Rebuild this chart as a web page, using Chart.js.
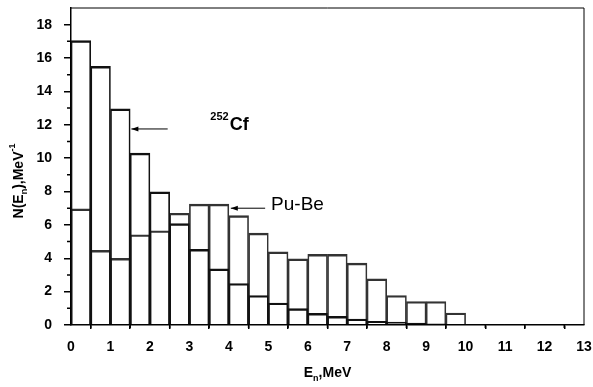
<!DOCTYPE html>
<html lang="en">
<head>
<meta charset="UTF-8">
<title>Neutron spectra: 252Cf and Pu-Be</title>
<style>
    html, body { margin: 0; padding: 0; background: #fff; }
    #wrap { width: 593px; height: 387px; }
</style>
</head>
<body>
<div id="wrap"><canvas id="spectrum"></canvas></div>

<script src="https://cdn.jsdelivr.net/npm/chart.js@4.4.1/dist/chart.umd.min.js"></script>
<script>
    // 0.5 MeV bins, centre of each bin
    const binCenters = [0.25, 0.75, 1.25, 1.75, 2.25, 2.75, 3.25, 3.75, 4.25, 4.75, 5.25,
                        5.75, 6.25, 6.75, 7.25, 7.75, 8.25, 8.75, 9.25, 9.75, 10.25, 10.75];
    const cf252 = [17.05, 15.5, 12.95, 10.3, 7.98, 6.08, 4.53, 3.37, 2.49, 1.77, 1.32,
                   0.98, 0.70, 0.52, 0.36, 0.22, 0.18, 0.12, 0.07, 0.04, 0.03, 0.01];
    const puBe = [6.96, 4.47, 3.99, 5.41, 5.65, 6.70, 7.25, 7.25, 6.56, 5.51, 4.39,
                  3.97, 4.23, 4.23, 3.71, 2.77, 1.77, 1.41, 1.41, 0.72, 0.04, 0];
    const xMin = 0, xMax = 13;
    const yMin = 0, yMax = 19;

    const FONT = '"Liberation Sans", Arial, sans-serif';

    function toPoints(vals) {
        return vals.map((v, i) => ({ x: binCenters[i], y: v }));
    }

    // minor ticks, frame, axis titles with sub/superscripts, arrows
    const decorations = {
        id: 'decorations',
        afterDraw(chart) {
            const ctx = chart.ctx;
            const xs = chart.scales.x, ys = chart.scales.y;
            const a = chart.chartArea;
            ctx.save();
            ctx.strokeStyle = '#000';
            ctx.lineWidth = 1.5;

            // minor ticks
            ctx.beginPath();
            for (let v = 1; v < yMax; v += 2) {
                const py = ys.getPixelForValue(v);
                ctx.moveTo(a.left, py);
                ctx.lineTo(a.left - 4, py);
            }
            for (let v = 0.5; v < xMax; v += 1) {
                const px = xs.getPixelForValue(v);
                ctx.moveTo(px, a.bottom);
                ctx.lineTo(px, a.bottom + 3);
            }
            ctx.stroke();

            // frame top & right
            ctx.lineWidth = 1;
            ctx.beginPath();
            ctx.moveTo(a.left, a.top);
            ctx.lineTo(a.right, a.top);
            ctx.lineTo(a.right, a.bottom);
            ctx.stroke();

            ctx.fillStyle = '#000';
            ctx.textBaseline = 'alphabetic';

            // x title: E_n,MeV
            const big = 'bold 14px ' + FONT, small = 'bold 9px ' + FONT;
            ctx.font = big;
            const wE = ctx.measureText('E').width;
            const wRest = ctx.measureText(',MeV').width;
            ctx.font = small;
            const wn = ctx.measureText('n').width;
            let tx = (a.left + a.right) / 2 - (wE + wn + wRest) / 2;
            const ty = 377;
            ctx.font = big; ctx.fillText('E', tx, ty); tx += wE;
            ctx.font = small; ctx.fillText('n', tx, ty + 4); tx += wn;
            ctx.font = big; ctx.fillText(',MeV', tx, ty);

            // y title: N(E_n),MeV^-1 rotated
            ctx.save();
            ctx.translate(23, 181);
            ctx.rotate(-Math.PI / 2);
            const parts = [['N(E', big, 0], ['n', small, 4], ['),MeV', big, 0], ['-1', small, -8]];
            let total = 0;
            parts.forEach(p => { ctx.font = p[1]; total += ctx.measureText(p[0]).width; });
            let ox = -total / 2;
            parts.forEach(p => {
                ctx.font = p[1];
                ctx.fillText(p[0], ox, p[2]);
                ox += ctx.measureText(p[0]).width;
            });
            ctx.restore();

            // arrows
            function arrow(x1, y1, x2, y2) {
                ctx.lineWidth = 1;
                ctx.beginPath();
                ctx.moveTo(x1, y1);
                ctx.lineTo(x2, y2);
                ctx.stroke();
                ctx.beginPath();
                ctx.moveTo(x2, y2);
                ctx.lineTo(x2 + 7, y2 - 2.5);
                ctx.lineTo(x2 + 7, y2 + 2.5);
                ctx.closePath();
                ctx.fill();
            }
            const cfY = ys.getPixelForValue(11.75);
            arrow(xs.getPixelForValue(2.45), cfY, xs.getPixelForValue(1.53), cfY);
            const pbY = ys.getPixelForValue(7.0);
            arrow(xs.getPixelForValue(4.92), pbY, xs.getPixelForValue(4.05), pbY);

            // labels
            ctx.font = 'bold 11px ' + FONT;
            const cx = xs.getPixelForValue(3.53), cy = ys.getPixelForValue(11.9);
            ctx.fillText('252', cx, cy - 6);
            const w252 = ctx.measureText('252').width;
            ctx.font = 'bold 18px ' + FONT;
            ctx.fillText('Cf', cx + w252 + 1, cy + 4);

            ctx.font = '19px ' + FONT;
            ctx.textBaseline = 'middle';
            ctx.fillText('Pu-Be', xs.getPixelForValue(5.07), ys.getPixelForValue(7.2));
            ctx.restore();
        }
    };

    const barStyle = {
        backgroundColor: 'rgba(0,0,0,0)',
        borderWidth: { top: 1.8, left: 1, right: 1, bottom: 0 },
        borderSkipped: 'start',
        barPercentage: 1,
        categoryPercentage: 1,
        grouped: false
    };

    new Chart(document.getElementById('spectrum'), {
        type: 'bar',
        data: {
            datasets: [
                Object.assign({ label: '252Cf', data: toPoints(cf252), borderColor: '#111' }, barStyle),
                Object.assign({ label: 'Pu-Be', data: toPoints(puBe), borderColor: '#333' }, barStyle)
            ]
        },
        options: {
            responsive: true,
            maintainAspectRatio: false,
            animation: false,
            layout: { padding: { top: 8, right: 9, left: 0, bottom: 0 } },
            plugins: { legend: { display: false }, tooltip: { enabled: false } },
            scales: {
                x: {
                    type: 'linear',
                    min: xMin, max: xMax,
                    offset: false,
                    afterFit(s) { s.height = 62; s.paddingLeft = 0; s.paddingRight = 0; },
                    grid: { drawOnChartArea: false, drawTicks: true, tickLength: 4, color: '#000', lineWidth: 1.5 },
                    border: { display: true, color: '#000', width: 1.5 },
                    ticks: { stepSize: 1, padding: 10, color: '#000', font: { family: FONT, size: 14, weight: 'bold' }, maxRotation: 0 }
                },
                y: {
                    min: yMin, max: yMax,
                    afterFit(s) { s.width = 71; s.paddingTop = 0; s.paddingBottom = 0; },
                    grid: { drawOnChartArea: false, drawTicks: true, tickLength: 7, color: '#000', lineWidth: 1.5 },
                    border: { display: true, color: '#000', width: 1.5 },
                    ticks: { stepSize: 2, includeBounds: false, padding: 12, color: '#000', font: { family: FONT, size: 14, weight: 'bold' } }
                }
            }
        },
        plugins: [decorations]
    });
</script>
</body>
</html>
